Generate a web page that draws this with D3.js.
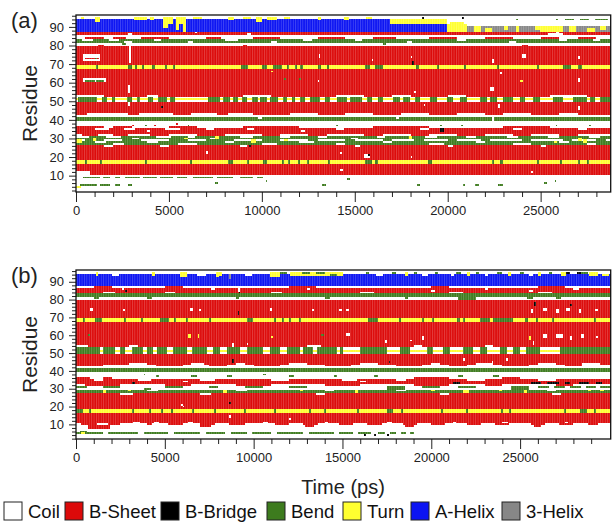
<!DOCTYPE html>
<html>
<head>
<meta charset="utf-8">
<title>DSSP secondary structure</title>
<script src="https://cdn.jsdelivr.net/npm/d3@7"></script>
<style>
body { margin: 0; background: #fff; font-family: "Liberation Sans", Arial, sans-serif; }
.tick text { font-size: 13px; fill: #222; font-family: "Liberation Sans", Arial, sans-serif; }
.tick line { stroke: #222; }
</style>
</head>
<body>
<script>
// secondary structure classes (DSSP style codes)
var codes = ["C", "E", "B", "S", "T", "H", "G"];
var names = ["Coil", "B-Sheet", "B-Bridge", "Bend", "Turn", "A-Helix", "3-Helix"];
var fills = ["#ffffff", "#dc0a0a", "#000000", "#3d7b1e", "#ffff30", "#0c14f2", "#878787"];

var tMaxA = 28770, tMaxB = 30100;
var xTicks = [0, 5000, 10000, 15000, 20000, 25000];
var yTicks = [10, 20, 30, 40, 50, 60, 70, 80, 90];

// ---- panel (a) : base state of each residue band [resLo, resHi, code]
var bandsA = [
  [95, 96, "C"], [88, 94, "H"], [86, 87, "E"], [84, 85, "C"], [82, 83, "S"], [80, 81, "C"],
  [70, 79, "E"], [68, 69, "T"], [53, 67, "E"], [52, 52, "C"], [51, 51, "T"], [50, 50, "C"],
  [44, 49, "E"], [42, 43, "C"], [40, 41, "S"], [36, 39, "C"], [33, 35, "E"], [32, 32, "C"],
  [30, 31, "S"], [29, 29, "C"], [27, 28, "S"], [19, 26, "E"], [17, 18, "T"], [11, 16, "E"], [1, 10, "C"]
];
// bend blobs on the turn bands (time ranges, ps)
var bend51A = [[125,1110],[1380,1650],[1920,2100],[2725,2995],[3265,3440],[3890,4160],[4430,4880],[5055,5325],
  [7120,7745],[7925,8285],[8465,8730],[8910,9180],[9450,9810],[9900,10260],[10435,10885],[11150,11330],
  [11600,11780],[12050,12320],[12590,13125],[13390,13660],[14020,14560],[14740,15365],[15635,15900],
  [16260,16530],[17070,17430],[17610,17970],[18235,18500],[19040,19400],[19940,20300],[20660,21020],
  [21730,22090],[22270,22630],[22990,23525],[23885,24150],[24600,24960],[25680,26220],[26760,27475],
  [27655,27925],[28195,28730]];
var bend69A = [[1050,1200],[2780,3000],[3180,3280],[3530,3640],[4070,4250],[4790,4900],[5230,5340],[8900,9270],
  [9990,10260],[10600,11060],[11330,11440],[11780,11890],[12050,12190],[13030,13160],[13480,13620],
  [15550,15820],[16080,16530],[18320,18430],[19400,19510],[20880,20990],[22670,22780],[24780,24890],
  [26210,26660],[27020,27200]];
var bend18A = [[480,590],[1290,1400],[3710,3820],[6130,6240],[8200,8460],[9180,9290],[10080,10260],[11060,11170],
  [11420,11530],[11960,12070],[12410,12520],[13570,13680],[15550,15900],[16080,16260],[18950,19130],
  [22360,22470],[22810,22990],[24780,24890],[26040,26150],[27020,27130],[27470,27580]];
var bend9A = [[400,1290],[1470,1830],[2100,2370],[2640,3440],[3620,4340],[4520,5240],[5420,5950],
  [6310,7390],[7570,8460],[8820,9540],[9720,10080]];
var bend5A = [[215,1110],[1290,1830],[2100,2370],[2820,3000],[13250,13450],[18350,18500],[20800,20950],
  [21450,21700],[22700,22950]];

// other state changes [resLo, resHi, t0, t1, code]
var eventsA = [
  // helix region
  [95,95,250,450,"T"],[93,95,1000,1300,"T"],[94,95,3100,3800,"T"],[94,95,4000,4200,"T"],[90,95,4700,4950,"T"],
  [92,95,4950,5200,"T"],[89,95,5400,5550,"T"],[92,95,5550,5750,"T"],[88,95,5750,5900,"T"],[95,95,6300,6800,"T"],
  [94,95,8200,8500,"T"],[95,95,9000,9400,"T"],[93,95,9700,10000,"T"],[94,95,10300,10800,"T"],[95,95,11200,11500,"T"],
  [94,95,13000,13200,"T"],[94,95,14400,14700,"T"],[95,95,15600,15900,"T"],
  [92,94,16900,19950,"T"],[88,91,19950,21020,"T"],[92,95,19950,28770,"C"],[88,91,21020,28770,"C"],
  [88,90,21020,24960,"G"],[88,90,24960,26220,"T"],[88,90,26220,28770,"G"],
  [88,90,21400,21800,"T"],[88,89,22000,22400,"T"],[89,90,23050,23250,"T"],[88,90,23700,23850,"T"],
  [89,90,24700,24960,"T"],[88,90,26500,26900,"T"],[88,89,27500,27900,"T"],[89,90,28200,28500,"T"],
  [91,92,20100,20900,"T"],[94,94,26300,26800,"S"],[94,94,27100,27600,"S"],[94,94,27900,28600,"S"],
  [95,95,20750,20900,"B"],[95,95,18600,18750,"B"],[94,94,23650,23800,"S"],[94,94,25800,25950,"S"],
  // 80-87
  [86,86,25400,26200,"C"],[87,87,25800,26000,"C"],[86,86,2800,3000,"C"],[87,87,6400,6500,"C"],[86,86,9200,9400,"C"],
  [84,84,500,1500,"E"],[84,84,2000,2700,"E"],[84,84,3500,5000,"E"],[84,84,7000,7800,"E"],[84,84,9500,11000,"E"],
  [84,84,13000,14500,"E"],[84,84,16000,17200,"E"],[84,84,19000,20500,"E"],[84,84,22000,23500,"E"],
  [84,84,25000,26000,"E"],[84,84,27000,28000,"E"],
  [83,83,300,900,"C"],[83,83,1800,2300,"C"],[82,82,2600,3000,"C"],[83,83,4200,4600,"C"],[82,82,6000,6300,"C"],
  [83,83,8000,8700,"C"],[82,82,10500,10800,"C"],[83,83,12200,12700,"C"],[83,83,15000,15400,"C"],[82,82,17800,18100,"C"],
  [83,83,20500,21000,"C"],[82,82,23300,23700,"C"],[83,83,26000,26400,"C"],[83,83,27800,28200,"C"],
  [80,80,1200,1500,"E"],[81,81,2500,2700,"S"],[80,80,9000,9200,"E"],[81,81,16500,16700,"S"],[80,80,24000,24300,"E"],
  // specks in sheet 53-79
  [72,75,350,1300,"C"],[73,73,500,1250,"E"],[73,73,1000,1150,"S"],[71,79,2850,2950,"C"],
  [61,62,400,1600,"C"],[61,61,500,1000,"S"],[61,61,1100,1500,"S"],[55,58,2800,2900,"C"],
  [74,75,13050,13150,"C"],[72,72,15900,16000,"C"],[74,74,18000,18100,"C"],[71,72,22400,22500,"C"],
  [74,75,24000,24200,"C"],[73,74,27000,27100,"C"],[65,65,22800,22900,"C"],[61,61,23900,24050,"T"],
  [61,62,27000,27100,"C"],[61,61,13000,13100,"C"],[56,57,22300,22500,"C"],[55,55,18200,18300,"C"],
  [66,66,10500,10600,"T"],[62,62,11200,11300,"S"],[62,62,12000,12100,"S"],[70,71,18100,18200,"B"],
  [53,53,0,1500,"C"],[53,53,3800,4400,"C"],[53,53,9000,10500,"C"],[53,53,14000,15500,"C"],
  [53,53,17000,18000,"C"],[53,53,20000,21000,"C"],[53,53,25500,27500,"C"],
  // 40-49
  [48,49,2800,2900,"C"],[47,48,22700,22800,"C"],[46,47,27000,27100,"C"],[48,48,18700,18800,"C"],[47,47,4600,4700,"B"],
  [43,43,0,600,"E"],[43,43,2800,3400,"E"],[43,43,5200,6200,"E"],[43,43,7600,8200,"E"],[43,43,9500,11500,"E"],
  [43,43,13000,14500,"E"],[43,43,16000,17500,"E"],[43,43,19000,20500,"E"],[43,43,22000,23000,"E"],
  [43,43,24500,26000,"E"],[43,43,27000,28770,"E"],
  [41,41,9800,10000,"C"],[41,41,17200,17400,"C"],[40,41,22400,22500,"C"],
  // 26-39
  [37,37,3000,3100,"E"],[37,37,3700,3800,"S"],[37,37,4200,4300,"E"],[38,38,5400,5500,"E"],[37,37,6000,6100,"S"],
  [37,37,14000,14100,"S"],[37,37,19600,19700,"S"],[37,37,20700,20800,"S"],[37,37,25800,25900,"S"],[37,37,27600,27700,"S"],
  [36,36,0,1500,"E"],[36,36,2000,3000,"E"],[36,36,5000,6500,"E"],[36,36,9000,12000,"E"],[36,36,16000,19000,"E"],
  [36,36,23000,25500,"E"],
  [35,35,1000,1800,"C"],[35,35,2600,3200,"C"],[34,34,3800,4000,"C"],[35,35,4800,5600,"C"],[35,35,7000,7400,"C"],
  [35,35,9200,9600,"C"],[34,34,12100,12300,"C"],[35,35,14000,14400,"C"],[35,35,18500,19000,"C"],[34,35,19600,19800,"B"],
  [35,35,23500,24000,"C"],[35,35,27000,27500,"C"],
  [32,32,300,1200,"E"],[32,32,2000,2800,"E"],[32,32,4000,5000,"E"],[32,32,6500,8000,"E"],[32,32,10000,11000,"E"],
  [32,32,12500,13500,"E"],[32,32,15500,16500,"E"],[32,32,18000,19000,"E"],[32,32,20500,22000,"E"],
  [32,32,23500,24500,"E"],[32,32,26000,27000,"E"],
  [31,31,0,700,"C"],[31,31,1600,2400,"C"],[30,30,3000,3400,"C"],[31,31,4300,5100,"C"],[31,31,6000,6400,"C"],
  [30,30,7200,7600,"C"],[31,31,8800,9500,"C"],[31,31,11000,11500,"C"],[31,31,13000,13500,"C"],[30,30,14800,15200,"C"],
  [31,31,16200,16600,"C"],[31,31,18800,19400,"C"],[31,31,21000,21500,"C"],[31,31,23200,23800,"C"],
  [31,31,25400,26000,"C"],[31,31,27600,28200,"C"],
  [29,29,500,1500,"S"],[29,29,2500,3500,"S"],[29,29,5000,6000,"S"],[29,29,7000,8500,"S"],[29,29,10000,11000,"S"],
  [29,29,12500,13000,"S"],[29,29,14500,15000,"S"],[29,29,16500,17000,"S"],[29,29,18200,18700,"S"],
  [29,29,20000,20500,"S"],[29,29,21800,22300,"S"],[29,29,24000,24500,"S"],[29,29,26200,26700,"S"],[29,29,28000,28500,"S"],
  [28,28,1000,1600,"C"],[27,27,2000,2600,"C"],[28,28,3800,4400,"C"],[27,27,5500,6500,"C"],[28,28,8000,8500,"C"],
  [27,27,10000,10800,"C"],[28,28,12000,12800,"C"],[27,27,14000,14500,"C"],[28,28,16500,17000,"C"],
  [27,27,19000,19800,"C"],[28,28,21500,22000,"C"],[27,27,23500,24500,"C"],[28,28,26000,26500,"C"],[27,27,27500,28000,"C"],
  [28,29,0,300,"T"],[29,30,900,1100,"T"],[30,30,5800,6000,"T"],[30,31,7500,7700,"T"],[28,29,9400,9700,"T"],
  [29,29,11200,11400,"T"],[30,31,17900,18100,"T"],[28,28,25700,25900,"T"],[29,30,27000,27200,"T"],[28,29,27300,27500,"T"],
  [26,26,1500,2000,"C"],[26,26,4500,5000,"C"],[26,26,8800,9200,"C"],[26,26,15000,15300,"C"],[26,26,20000,20300,"C"],
  [26,26,25000,25300,"C"],[26,26,9300,9400,"B"],
  // 10-25
  [22,22,14200,14300,"C"],[20,21,15500,15800,"C"],[20,20,18000,18100,"C"],[13,13,14200,14350,"C"],
  [12,12,24500,24600,"C"],[22,23,7000,7100,"C"],[21,21,15700,15800,"B"],
  [11,12,0,750,"C"],[4,4,0,250,"T"],[6,6,7500,7650,"S"],[8,8,14600,14750,"S"],[7,7,25750,25850,"S"],
  [6,6,25200,25350,"S"],[7,7,10200,10300,"S"]
];

// ---- panel (b)
var bandsB = [
  [95, 96, "C"], [88, 94, "H"], [87, 87, "C"], [84, 86, "E"], [82, 83, "S"], [80, 81, "C"],
  [70, 79, "E"], [68, 69, "T"], [54, 67, "E"], [53, 53, "C"], [52, 52, "C"], [51, 51, "T"], [50, 50, "C"],
  [44, 49, "E"], [42, 43, "C"], [40, 41, "S"], [36, 39, "C"], [33, 35, "E"], [30, 32, "C"],
  [28, 29, "S"], [19, 27, "E"], [17, 18, "T"], [10, 16, "E"], [1, 9, "C"]
];
var bend51B = [[0,1350],[1540,2190],[2480,2760],[3130,3790],[3980,4350],[4540,5100],[5480,6230],[6510,7350],
  [7730,8100],[8480,9230],[9600,10540],[10920,11480],[11860,12610],[12790,13360],[13540,14670],[14860,15050],
  [15980,17480],[18230,18800],[19740,20110],[20670,21050],[21800,22360],[22740,23120],[23860,24240],
  [24610,24990],[25360,26110],[27240,30100]];
var bend69B = [[380,500],[1070,1450],[2700,2820],[3640,3760],[4730,5100],[5140,5250],[5520,5630],[6170,6290],
  [7480,7600],[9600,9980],[11140,11260],[11610,11730],[11990,12110],[12550,12670],[16450,17020],[18180,18300],
  [19490,19610],[20050,20170],[21420,21610],[21800,21920],[22740,23300],[23490,24610],[25300,25420],
  [25870,25990],[26810,26930],[29150,29270]];
var bend18B = [[0,410],[730,850],[3170,3290],[4110,4230],[4770,4890],[5330,5450],[6550,6670],[7770,7890],
  [9450,9570],[11140,11260],[13110,13230],[13960,14080],[15830,15950],[17480,17860],[18270,18390],
  [20520,20640],[21930,22050],[23900,24020],[24370,24490],[27460,27580],[28370,28740],[29150,29270]];
var bend5B = [[0,400],[500,1500],[1800,3500],[3800,5200],[5500,7000],[7300,8400],[8700,9600],[9900,11000],
  [11300,12800],[13100,14500],[14800,15600],[15900,16600],[17000,17400],[17700,18000],[18300,18600],[18800,19000]];

var eventsB = [
  // helix region
  [94,95,1110,1250,"T"],[94,95,4300,4450,"T"],[93,95,5850,6230,"T"],[94,95,8050,8200,"T"],[93,95,7900,8050,"T"],
  [92,94,8600,8750,"G"],[93,95,10920,11480,"T"],[94,95,12040,15050,"T"],[95,95,12700,13200,"S"],
  [95,95,13500,14000,"S"],[94,94,14300,14700,"S"],[95,95,11500,11900,"S"],
  [95,95,16300,16500,"S"],[95,95,17800,18000,"S"],[95,95,19000,19200,"S"],[95,95,20200,20400,"S"],
  [95,95,21400,21700,"S"],[95,95,22500,22700,"S"],[95,95,23700,24000,"S"],[95,95,25000,25200,"S"],
  [95,95,26600,26800,"S"],[95,95,28400,28800,"S"],
  [94,95,18500,18700,"T"],[94,95,22000,22200,"T"],[94,95,24300,24500,"T"],[94,95,26000,26200,"T"],
  [94,95,27300,27600,"T"],[94,95,28900,29400,"T"],[94,94,29600,30000,"T"],[95,95,27600,27800,"B"],[95,95,28200,28400,"B"],
  [94,94,16900,17300,"C"],[94,94,19500,19800,"C"],[94,94,21100,21300,"C"],[94,94,23000,23200,"C"],[94,94,25500,25700,"C"],
  [94,94,2000,2400,"C"],[94,94,6800,7300,"C"],[94,94,9500,9900,"C"],
  [87,87,1000,2000,"E"],[87,87,5000,6000,"E"],[87,87,12000,13500,"E"],[87,87,20000,21000,"E"],[87,87,26000,27500,"E"],
  [86,86,2600,2700,"C"],[85,85,2750,2850,"B"],[86,86,7600,7800,"C"],[85,86,9100,9250,"C"],[84,84,9150,9250,"B"],
  [86,86,13000,13200,"C"],[85,85,20000,20200,"C"],[86,86,23000,23200,"C"],[85,85,25500,25700,"C"],[86,86,28000,28300,"C"],
  [84,84,1500,2200,"C"],[84,84,5000,5600,"C"],[84,84,11000,11600,"C"],[84,84,16000,16800,"C"],[84,84,21000,21800,"C"],
  [84,84,26000,26800,"C"],
  [81,81,1000,1300,"S"],[81,81,4000,4300,"S"],[81,81,9000,9200,"S"],[81,81,14000,14300,"S"],[81,81,18500,18700,"S"],
  [80,81,21500,22500,"S"],[81,81,25400,25700,"S"],[81,81,27000,27300,"S"],
  // specks in sheet 54-79
  [74,75,790,950,"C"],[74,74,2660,2760,"C"],[74,75,6420,6600,"C"],[74,74,6950,7050,"C"],[72,73,9100,9200,"B"],
  [74,75,10920,11020,"C"],[74,74,13300,13400,"C"],[74,74,14800,15000,"C"],[74,74,15200,15350,"C"],
  [73,74,25600,25700,"C"],[74,75,26300,26500,"C"],[73,74,27000,27200,"C"],[74,75,27600,27800,"C"],
  [73,74,28300,28400,"C"],[74,74,29200,29400,"C"],[77,78,25800,25900,"B"],[77,77,27800,27900,"B"],
  [59,60,6300,6450,"T"],[59,60,6850,6950,"T"],[60,60,700,800,"S"],[59,59,11000,11100,"T"],[60,60,13800,13950,"S"],
  [60,61,15200,15400,"C"],[56,57,17400,17500,"C"],[57,57,18800,18900,"C"],[58,59,19500,19600,"C"],
  [58,59,25500,25600,"T"],[59,60,26300,26500,"C"],[59,60,27000,27400,"C"],[58,59,27800,27900,"C"],
  [59,60,28400,28600,"C"],[59,59,29300,29400,"C"],[55,56,25700,25800,"C"],[54,55,8800,8900,"C"],[55,55,9600,9700,"C"],
  [54,54,0,700,"C"],[54,54,3000,3500,"C"],[54,54,13000,13800,"C"],[54,54,19000,19500,"C"],[54,54,23000,23500,"C"],
  // 40-49
  [44,44,3000,4000,"C"],[44,44,6500,7200,"C"],[44,44,9000,9500,"C"],[44,44,12000,13000,"C"],[44,44,16000,17000,"C"],
  [44,44,20000,20500,"C"],[44,44,22500,23500,"C"],[44,44,26000,27000,"C"],[44,44,28500,29500,"C"],
  [45,46,8800,8900,"B"],[46,47,21800,21900,"C"],[45,45,23400,23500,"C"],[46,47,24200,24300,"C"],[45,45,17600,17700,"B"],
  [43,43,0,1500,"E"],[43,43,4500,6000,"E"],[43,43,7500,8500,"E"],[43,43,10000,11500,"E"],[43,43,14000,15500,"E"],
  [43,43,18000,19500,"E"],[43,43,21000,22000,"E"],[43,43,24000,25500,"E"],[43,43,27500,28500,"E"],
  // 27-39
  [38,38,3800,3900,"S"],[37,37,4500,4700,"S"],[37,37,6500,6800,"S"],[37,37,8500,8800,"S"],[38,38,10500,10700,"S"],
  [37,37,12000,12300,"S"],[37,37,14500,14700,"S"],[37,37,16800,17000,"S"],[37,37,21500,21800,"S"],[37,37,23500,23800,"S"],
  [36,36,0,800,"E"],[36,36,1500,2000,"E"],[36,36,19000,21000,"E"],[36,36,24000,25000,"E"],
  [35,35,1000,1500,"C"],[35,35,3500,4200,"C"],[35,35,7000,7800,"C"],[35,35,11000,12000,"C"],[35,35,15000,15800,"C"],
  [35,35,18000,18600,"C"],[35,35,22000,23000,"C"],[35,35,26000,27000,"C"],[34,34,6000,6300,"C"],[34,34,16000,16300,"C"],
  [32,32,500,2500,"E"],[32,32,5000,6500,"E"],[32,32,9000,11000,"E"],[32,32,14000,16000,"E"],[32,32,19000,21000,"E"],
  [32,32,23000,24000,"E"],[32,32,27000,28000,"E"],
  [33,33,3150,3300,"B"],[33,33,21240,21610,"B"],[33,33,25600,26200,"B"],[33,33,26500,27200,"B"],
  [33,33,27500,27800,"B"],[33,33,28300,28900,"B"],[33,33,29300,29600,"B"],
  [31,31,0,600,"S"],[31,31,1500,2500,"S"],[30,30,3800,4200,"S"],[31,31,5000,6000,"S"],[31,31,7500,8000,"S"],
  [31,31,9500,10500,"S"],[31,31,12000,13000,"S"],[30,31,17500,18500,"S"],[31,31,19500,20500,"S"],
  [31,31,21500,22500,"S"],[30,31,24500,25500,"S"],[31,31,26000,26600,"S"],[31,31,26900,27500,"S"],
  [31,31,27800,28400,"S"],[31,31,28700,29300,"S"],[31,31,29500,30100,"S"],
  [28,29,1500,1700,"T"],[29,29,2900,3100,"T"],[28,29,8300,8500,"T"],[29,29,12600,12800,"T"],[28,29,15700,15900,"T"],
  [29,29,20000,20200,"T"],[28,29,21800,22100,"T"],[29,29,23800,24000,"T"],[28,29,25200,25400,"T"],
  [29,29,28800,29000,"T"],[29,29,29500,29700,"T"],
  [29,29,4000,4600,"C"],[29,29,9000,9600,"C"],[29,29,14000,14500,"C"],[29,29,18000,18600,"C"],[29,29,26500,27000,"C"],
  [27,27,2500,3200,"C"],[27,27,7000,7600,"C"],[27,27,13500,14000,"C"],[27,27,20500,21000,"C"],[27,27,26800,27300,"C"],
  // 8-26
  [21,21,5900,6000,"C"],[20,20,6000,6100,"C"],[22,22,8600,8700,"B"],[14,15,8600,8700,"C"],[13,13,12000,12100,"C"],
  [11,11,3200,3600,"C"],[11,11,4400,4700,"C"],[11,11,6300,6600,"C"],[11,11,10500,10800,"C"],[11,11,14000,14200,"C"],
  [11,11,17500,17800,"C"],[11,11,21200,21400,"C"],[11,11,24000,24300,"C"],[11,11,27500,27700,"C"],
  [10,10,0,300,"C"],[10,10,1200,1800,"C"],[10,10,2500,4000,"C"],[10,10,4300,5200,"C"],[10,10,6000,7000,"C"],
  [10,10,7800,8600,"C"],[10,10,9500,11200,"C"],[10,10,12000,12800,"C"],[10,10,13600,14800,"C"],[10,10,15600,16400,"C"],
  [10,10,17200,18400,"C"],[10,10,19200,20000,"C"],[10,10,20800,22000,"C"],[10,10,22800,23600,"C"],
  [10,10,24400,25600,"C"],[10,10,26400,27200,"C"],[10,10,28000,28800,"C"],[10,10,29400,30100,"C"],
  [8,9,700,1900,"E"],[9,9,7000,7600,"E"],[9,9,12900,13400,"E"],[9,9,18500,19000,"E"],[9,9,25800,26200,"E"],
  [5,6,300,500,"T"],[6,6,200,600,"S"],[4,4,16200,16300,"B"],[4,4,16800,16900,"B"],[4,4,17500,17600,"B"]
];

var W = 616, H = 524;
var svg = d3.select("body").append("svg").attr("width", W).attr("height", H);

var color = d3.scaleOrdinal().domain(codes).range(fills);

// stripe pattern that gives the frame-by-frame column look
var defs = svg.append("defs");
var pat = defs.append("pattern").attr("id", "cols").attr("patternUnits", "userSpaceOnUse")
    .attr("width", 2.4).attr("height", 10);
pat.append("rect").attr("x", 0).attr("y", 0).attr("width", 0.9).attr("height", 10)
    .attr("fill", "#fff").attr("fill-opacity", 0.22);

function expand(list, lo, hi, code) {
  return list.map(function(d) { return [lo, hi, d[0], d[1], code]; });
}

function drawPanel(p) {
  var x = d3.scaleLinear().domain([0, p.tMax]).range([p.left, p.right]);
  var y = d3.scaleLinear().domain(p.resDomain).range([p.bottom, p.top]);
  var g = svg.append("g");
  var clipId = "clip" + p.name;
  defs.append("clipPath").attr("id", clipId).append("rect")
      .attr("x", p.left).attr("y", p.top).attr("width", p.right - p.left).attr("height", p.bottom - p.top);
  var plot = g.append("g").attr("clip-path", "url(#" + clipId + ")");

  var cells = p.bands.map(function(b) { return [b[0], b[1], 0, p.tMax, b[2]]; })
      .concat(p.blobs, p.events);

  plot.selectAll("rect.cell").data(cells).enter().append("rect")
      .attr("class", "cell")
      .attr("x", function(d) { return x(d[2]); })
      .attr("width", function(d) { return Math.max(0.8, x(d[3]) - x(d[2])); })
      .attr("y", function(d) { return y(d[1] + 0.5); })
      .attr("height", function(d) { return y(d[0] - 0.5) - y(d[1] + 0.5); })
      .attr("fill", function(d) { return color(d[4]); })
      .attr("shape-rendering", "crispEdges");

  plot.append("rect").attr("x", p.left).attr("y", p.top)
      .attr("width", p.right - p.left).attr("height", p.bottom - p.top)
      .attr("fill", "url(#cols)");

  // axes
  var minorX = d3.range(0, p.tMax, 1000).filter(function(v) { return v % 5000; });
  g.append("g").attr("transform", "translate(0," + p.bottom + ")")
      .call(d3.axisBottom(x).tickValues(minorX).tickSize(5).tickFormat(""))
      .call(function(s) { s.select(".domain").remove(); });
  g.append("g").attr("transform", "translate(0," + p.bottom + ")")
      .call(d3.axisBottom(x).tickValues(xTicks).tickSize(10).tickPadding(4).tickFormat(d3.format("d")))
      .call(function(s) { s.select(".domain").remove(); });

  var minorY = d3.range(2, 97, 2).filter(function(v) {
    return v % 10 && v >= p.resDomain[0] && v <= p.resDomain[1];
  });
  g.append("g").attr("transform", "translate(" + p.left + ",0)")
      .call(d3.axisLeft(y).tickValues(minorY).tickSize(4).tickFormat(""))
      .call(function(s) { s.select(".domain").remove(); });
  g.append("g").attr("transform", "translate(" + p.left + ",0)")
      .call(d3.axisLeft(y).tickValues(yTicks).tickSize(7).tickPadding(5))
      .call(function(s) { s.select(".domain").remove(); });

  g.append("rect").attr("x", p.left).attr("y", p.top)
      .attr("width", p.right - p.left).attr("height", p.bottom - p.top)
      .attr("fill", "none").attr("stroke", "#111").attr("stroke-width", 1.3);

  g.append("text").attr("transform", "translate(" + 37 + "," + ((p.top + p.bottom) / 2) + ") rotate(-90)")
      .attr("text-anchor", "middle").style("font-size", "21px").style("fill", "#222")
      .text("Residue");
  g.append("text").attr("x", 11).attr("y", p.top + 13)
      .style("font-size", "22px").style("fill", "#222").text(p.label);
}

drawPanel({
  name: "a", label: "(a)", left: 76, right: 610.7, top: 15, bottom: 192,
  tMax: tMaxA, resDomain: [1.2, 96.4], bands: bandsA,
  blobs: expand(bend51A, 50, 52, "S").concat(expand(bend69A, 68, 69, "S"), expand(bend18A, 17, 18, "S"),
         expand(bend9A, 9, 9, "S"), expand(bend5A, 5, 5, "S")),
  events: eventsA
});
drawPanel({
  name: "b", label: "(b)", left: 76, right: 610.7, top: 270, bottom: 439,
  tMax: tMaxB, resDomain: [1.8, 96.6], bands: bandsB,
  blobs: expand(bend51B, 50, 53, "S").concat(expand(bend69B, 68, 69, "S"), expand(bend18B, 17, 18, "S"),
         expand(bend5B, 5, 5, "S")),
  events: eventsB
});

svg.append("text").attr("x", 343).attr("y", 494).attr("text-anchor", "middle")
    .style("font-size", "20px").style("fill", "#222").text("Time (ps)");

// legend
var legendX = [4, 65, 161, 267, 343, 411, 502];
var legend = svg.selectAll(".legend").data(names).enter().append("g")
    .attr("class", "legend")
    .attr("transform", function(d, i) { return "translate(" + legendX[i] + ",502)"; });
legend.append("rect").attr("width", 18).attr("height", 18)
    .attr("fill", function(d, i) { return fills[i]; })
    .attr("stroke", "#222").attr("stroke-width", 1);
legend.append("text").attr("x", 24).attr("y", 16)
    .style("font-size", "18.5px").style("fill", "#111").text(function(d) { return d; });
</script>
</body>
</html>
